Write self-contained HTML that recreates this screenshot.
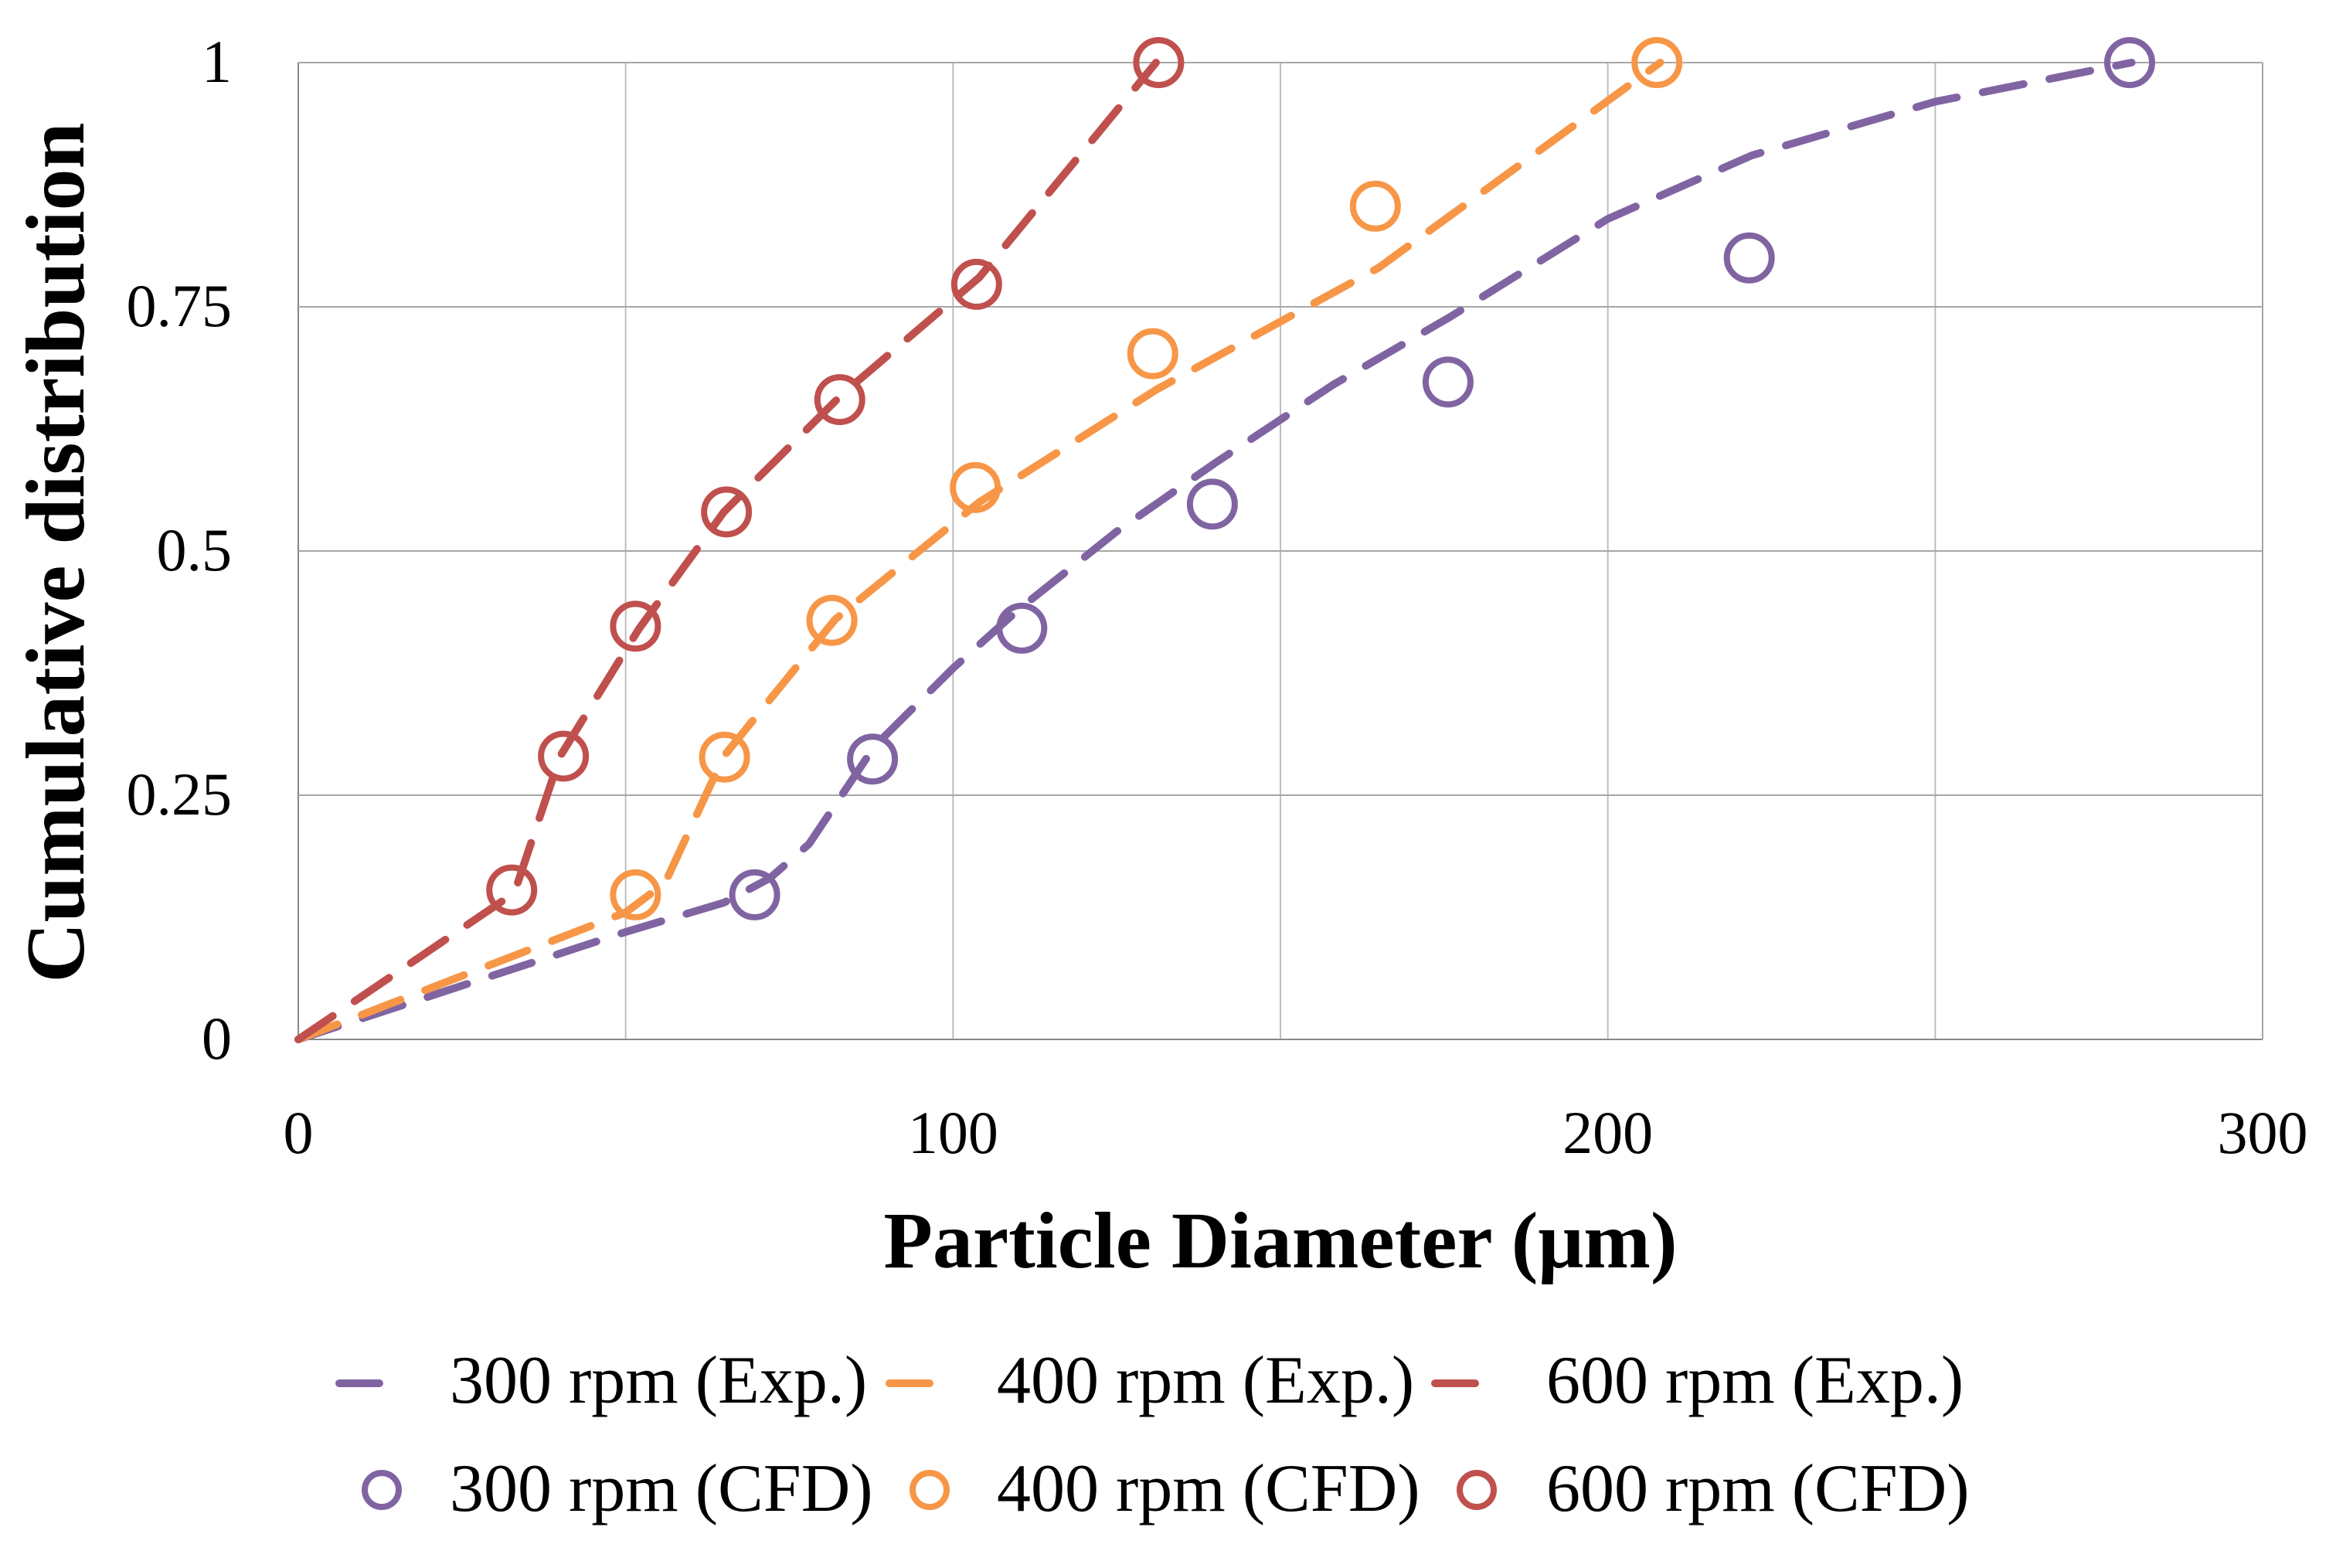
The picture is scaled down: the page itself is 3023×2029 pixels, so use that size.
<!DOCTYPE html>
<html><head><meta charset="utf-8"><style>
body{margin:0;background:#fff;}
svg text{font-family:"Liberation Serif",serif;fill:#000;}
</style></head><body>
<svg id="chart" width="3023" height="2024" viewBox="0 0 3023 2024" xmlns="http://www.w3.org/2000/svg">
<g id="grid"></g>
<g id="series"></g>
<g id="ticks"></g>
<text x="0" y="0" transform="translate(108,715) rotate(-90)" text-anchor="middle" font-size="108" font-weight="bold">Cumulative distribution</text>
<text x="1657" y="1640" text-anchor="middle" font-size="104" font-weight="bold">Particle Diameter (μm)</text>
<g id="legend"></g>
</svg>
<script>
const xTicks=[0,100,200,300];
const yTicks=[0,0.25,0.5,0.75,1];
const yTickLabels=["0","0.25","0.5","0.75","1"];
const seriesNames=["300 rpm","400 rpm","600 rpm"];
const colors=["#8064A2","#F79646","#C0504D"];
const exp300X=[0,50,65,72,78,84,88,100,110,125,140,158,176,200,222,250,280];
const exp300Y=[0,0.11,0.14,0.165,0.2,0.26,0.3,0.38,0.44,0.52,0.59,0.67,0.74,0.84,0.905,0.96,1.0];
const exp400X=[0,50,56,65,82,104,131,165,208];
const exp400Y=[0,0.13,0.16,0.29,0.43,0.55,0.665,0.79,1.0];
const exp600X=[0,33,40,52,65,83,104,131];
const exp600Y=[0,0.15,0.29,0.42,0.54,0.66,0.78,1.0];
const cfd300X=[69.7,87.7,110.5,139.6,175.6,221.6,279.7];
const cfd300Y=[0.148,0.287,0.421,0.548,0.673,0.8,1.0];
const cfd400X=[51.5,65.1,81.5,103.4,130.5,164.5,207.5];
const cfd400Y=[0.148,0.289,0.429,0.565,0.702,0.853,1.0];
const cfd600X=[32.6,40.5,51.5,65.4,82.7,103.6,131.4];
const cfd600Y=[0.153,0.29,0.423,0.54,0.655,0.773,1.0];

const L=386,R=2928,T=81,B=1345;
const sx=v=>L+(v-0)/300*(R-L);
const sy=v=>B-v*(B-T);
const NS="http://www.w3.org/2000/svg";
function mk(tag,attrs,parent){const e=document.createElementNS(NS,tag);for(const k in attrs)e.setAttribute(k,attrs[k]);parent.appendChild(e);return e;}
const grid=document.getElementById('grid'),ser=document.getElementById('series'),tk=document.getElementById('ticks'),lg=document.getElementById('legend');
for(let v=0;v<=300;v+=50){const l=mk('line',{x1:sx(v),x2:sx(v),y1:T,y2:B,stroke:v==0?'#888':'#bdbdbd','stroke-width':2},grid);

}
for(let v=0;v<=1.0001;v+=0.25){const l=mk('line',{x1:L,x2:R,y1:sy(v),y2:sy(v),stroke:v==0?'#888':'#a6a6a6','stroke-width':2},grid);

}
mk('line',{x1:R,x2:R,y1:T,y2:B,stroke:'#a6a6a6','stroke-width':2},grid);
xTicks.forEach(v=>{const t=mk('text',{x:sx(v),y:1492,'text-anchor':'middle','font-size':78},tk);t.textContent=v;

});
yTicks.forEach((v,i)=>{const t=mk('text',{x:300,y:sy(v)+25,'text-anchor':'end','font-size':78},tk);t.textContent=yTickLabels[i];

});
const expX=[exp300X,exp400X,exp600X],expY=[exp300Y,exp400Y,exp600Y];
const cfdX=[cfd300X,cfd400X,cfd600X],cfdY=[cfd300Y,cfd400Y,cfd600Y];
for(let s=0;s<3;s++){
 const pts=expX[s].map((x,i)=>sx(x)+','+sy(expY[s][i])).join(' ');
 const pl=mk('polyline',{points:pts,fill:'none',stroke:colors[s],'stroke-width':10,'stroke-dasharray':'54 34','stroke-linecap':'round','stroke-linejoin':'round'},ser);
 
 
}
for(let s=0;s<3;s++){
 cfdX[s].forEach((x,i)=>{const c=mk('circle',{cx:sx(x),cy:sy(cfdY[s][i]),r:29,fill:'none',stroke:colors[s],'stroke-width':8},ser);
 
 });
}
const lx=[[465,582],[1177,1290],[1883,2001]];
const cx=[494,1203,1911];
for(let s=0;s<3;s++){
 const d=mk('line',{x1:lx[s][0]-26,x2:lx[s][0]+26,y1:1790,y2:1790,stroke:colors[s],'stroke-width':10,'stroke-linecap':'round'},lg);
 
 
 const t=mk('text',{x:lx[s][1],y:1815,'font-size':88},lg);t.textContent=seriesNames[s]+' (Exp.)';
 
 
 const c=mk('circle',{cx:cx[s],cy:1928,r:22,fill:'none',stroke:colors[s],'stroke-width':8},lg);
 
 
 const t2=mk('text',{x:lx[s][1],y:1955,'font-size':88},lg);t2.textContent=seriesNames[s]+' (CFD)';
 
 
}
</script>
</body></html>
